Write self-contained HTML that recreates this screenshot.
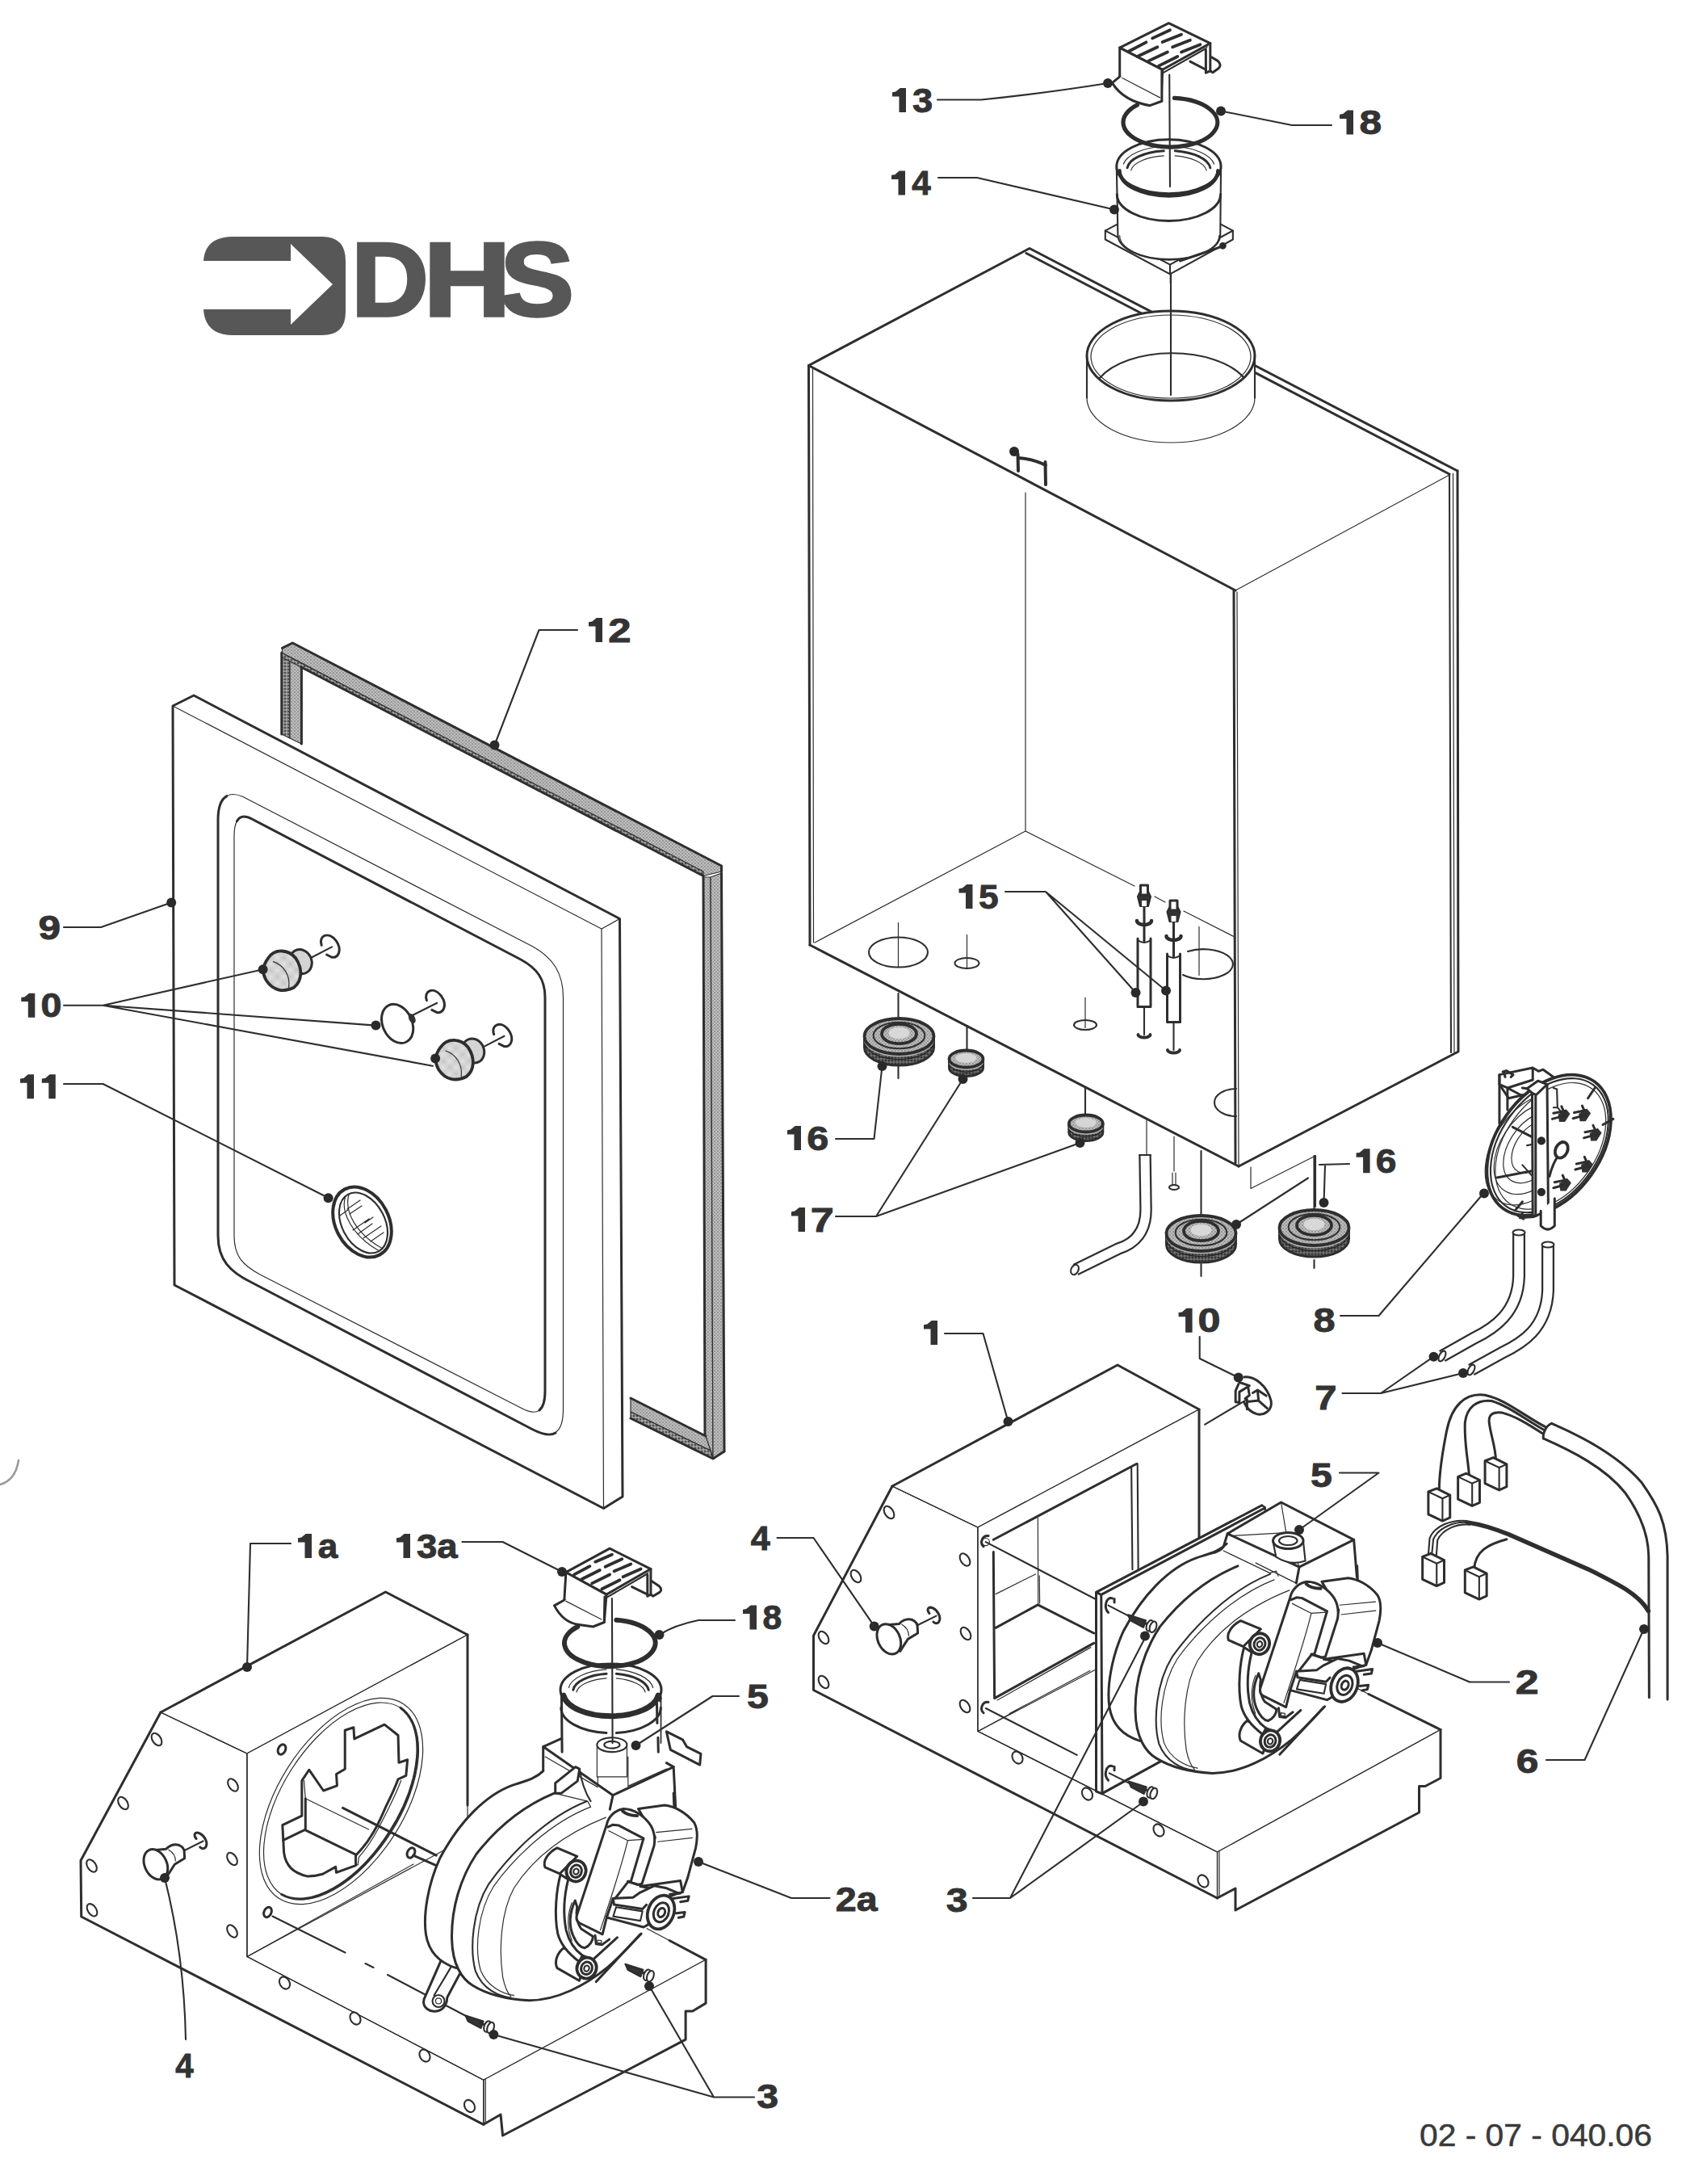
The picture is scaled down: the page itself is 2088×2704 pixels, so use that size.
<!DOCTYPE html>
<html><head><meta charset="utf-8"><title>02-07-040.06</title>
<style>
html,body{margin:0;padding:0;background:#fff;}
body{width:2088px;height:2704px;overflow:hidden;font-family:"Liberation Sans",sans-serif;}
svg{display:block;position:absolute;left:0;top:0;}
path,ellipse,circle,polygon,polyline,line,rect{fill:none;stroke:#2e2e2e;vector-effect:non-scaling-stroke;stroke-linecap:round;stroke-linejoin:round;stroke-width:2.2}
.k{stroke-width:3.0}
.kk{stroke-width:3.8}
.m{stroke-width:2.1}
.t{stroke-width:1.2}
.tt{stroke-width:1;stroke:#555}
.w{fill:#fff}
.n{stroke:none}
.d{fill:#2a2a2a;stroke:none}
.g1{fill:url(#st1)}
.g2{fill:url(#st2)}
.g3{fill:url(#st3)}
.g4{fill:url(#st4)}
.dk{fill:#333}
text{font-family:"Liberation Sans",sans-serif;}
.lb{font-weight:bold;font-size:42px;fill:#333;stroke:#333;stroke-width:0.9px}
.lg{font-weight:bold;fill:#575757;stroke:#575757;stroke-width:3.4px;stroke-linejoin:miter}
.dn{font-size:38px;fill:#3a3a3a;stroke:#3a3a3a;stroke-width:0.5px}
</style></head><body>
<svg width="2088" height="2704" viewBox="0 0 2088 2704">
<defs>
<pattern id="st1" width="5" height="5" patternUnits="userSpaceOnUse"><rect class="n" width="5" height="5" style="fill:#e4e4e4"/><circle class="n" cx="1.2" cy="1.2" r="0.8" style="fill:#555"/><circle class="n" cx="3.7" cy="3.7" r="0.8" style="fill:#555"/></pattern>
<pattern id="st2" width="4" height="4" patternUnits="userSpaceOnUse"><rect class="n" width="4" height="4" style="fill:#8a8a8a"/><circle class="n" cx="1" cy="1" r="0.9" style="fill:#333"/><circle class="n" cx="3" cy="3" r="0.8" style="fill:#ccc"/></pattern>
<pattern id="st3" width="4" height="4" patternUnits="userSpaceOnUse"><rect class="n" width="4" height="4" style="fill:#bdbdbd"/><circle class="n" cx="1" cy="1" r="0.8" style="fill:#666"/><circle class="n" cx="3" cy="3" r="0.7" style="fill:#777"/></pattern>
<pattern id="st4" width="4" height="4" patternUnits="userSpaceOnUse"><rect class="n" width="4" height="4" style="fill:#5a5a5a"/><circle class="n" cx="1" cy="1" r="0.9" style="fill:#222"/><circle class="n" cx="3" cy="3" r="0.7" style="fill:#999"/></pattern>
</defs>
<rect class="n" x="0" y="0" width="2088" height="2704" style="fill:#fff"/>
<path class="n w" d="M1001.5,452.5 L1275,307.5 L1805,583 L1795,588 L1530,731 Z"/><path class="k" d="M1530,731 L1001.5,452.5 L1275,307.5 L1805,583"/><path class="k" d="M1271,313.5 L1795,587"/><path class="t" d="M1530,731 L1795,588"/><path class="k" d="M1805,583 L1806,1302 L1534,1444"/><path class="m" d="M1795,588 L1797,1303"/><path class="t" d="M1799.5,586 L1801,1303"/><path class="k" d="M1001.5,452.5 L1003,1170"/><path class="t" d="M1006.5,456 L1007.5,1167"/><path class="k" d="M1528,731 L1530,1440"/><path class="t" d="M1532,733 L1534,1442"/><path class="k" d="M1003,1170 L1534,1444"/><path class="t" d="M1270,610 L1270,1029"/><path class="t" d="M1009,1167 L1270,1029 L1405,1097 M1430,1110 L1443,1117 M1466,1128 L1529,1160"/><circle class="d" cx="1256" cy="559" r="6"/><path class="" style="stroke-width:4" d="M1260.5,562 L1261,583 M1261,567 Q1280,568 1295,576 M1294.5,572 L1295,600"/><path class="t w" d="M1346,440.5 L1346,492.5 A104,55.5 0 0 0 1554,492.5 L1554,440.5 A104,55.5 0 0 0 1346,440.5 Z"/><ellipse class="k w" cx="1450" cy="440.5" rx="104" ry="55.5"/><ellipse class="t" cx="1450" cy="441.5" rx="99" ry="51.5"/><path class="m" d="M1362,468 A98,52 0 0 1 1540,467"/><path class="m" d="M1346,440.5 L1346,492.5 M1554,440.5 L1554,492.5"/><g transform="translate(1340,10) scale(0.1557)"><path class="m w" d="M185,1770 L690,1500 L1200,1770 L1200,1840 L700,2115 L185,1840 Z"/><path class="m" d="M185,1770 L700,2040 L1200,1770 M700,2040 L700,2115"/><path class="m w" d="M275,1260 L285,1800 A405,200 0 0 0 1100,1800 L1105,1260 Z"/><path class="t" d="M300,1810 A395,185 0 0 0 1090,1810"/><path class="k" d="M278,1480 A412,212 0 0 0 1102,1480"/><ellipse class="k w" cx="690" cy="1260" rx="415" ry="215"/><path class="kk" d="M300,1290 A385,190 0 0 0 1080,1290"/><path class="kk" d="M300,1300 A390,195 0 0 0 1080,1300"/><path class="t" d="M330,1240 A365,170 0 0 1 650,1100 M740,1100 A365,170 0 0 1 1050,1240"/><path class="k" d="M360,1270 A335,150 0 0 1 650,1135 M740,1135 A335,150 0 0 1 1020,1270"/><path class="t" d="M390,1290 A310,130 0 0 1 650,1175 M740,1175 A310,130 0 0 1 990,1290"/><circle class="d" cx="1120" cy="1890" r="28"/><path class="k" d="M780,2010 L1100,1900"/><path class="" style="stroke-width:5.2" d="M735,715 A375,195 0 1 1 440,770"/><path class="m" d="M695,530 L700,1420"/><path class="m" d="M705,2125 L705,2184"/><path class="k w" d="M300,315 L690,120 L1020,280 L640,490 Z"/><path class="k w" d="M300,315 L300,545 L630,720 L640,490 Z"/><path class="k w" d="M300,545 L240,595 Q330,740 540,775 L635,740 L635,500"/><path class="t" d="M320,555 L620,712"/><path class="m" d="M645,515 L1020,302"/><path class="k w" d="M1020,280 L1020,500 L985,515 L985,330"/><path class="k" d="M985,490 L860,425"/><path class="k" d="M1030,390 L1080,420 Q1115,455 1085,480 L1040,512 L1020,500"/><path class="kk" d="M370,345 L510,272"/><path class="kk" d="M560,240 L700,175"/><path class="kk" d="M440,385 L600,310"/><path class="kk" d="M640,270 L790,210"/><path class="kk" d="M530,420 L680,350"/><path class="kk" d="M720,310 L860,255"/><path class="kk" d="M610,460 L760,385"/><path class="kk" d="M790,350 L940,290"/></g><circle class="d" cx="1372" cy="103" r="6"/><circle class="d" cx="1512" cy="137.5" r="6"/><circle class="d" cx="1380" cy="259.5" r="6"/><path class="m" d="M1450,339 L1450,489"/><ellipse class="m" cx="1112.5" cy="1179" rx="36.5" ry="18.5"/><path class="t" d="M1112.5,1142.5 L1112.5,1197.5"/><ellipse class="m" cx="1197.5" cy="1192.5" rx="15" ry="6.5"/><path class="t" d="M1197.5,1157.5 L1197.5,1197.5"/><ellipse class="m" cx="1344" cy="1269" rx="14" ry="6"/><path class="t" d="M1344,1235 L1344,1272.5"/><path class="m" d="M1471,1178 A36.5,18.5 0 1 1 1465,1207"/><path class="t" d="M1485,1147.5 L1485,1207.5"/><path class="m" d="M1531,1348 A27,17 0 0 0 1531,1382"/><path class="m" d="M1417,1247 L1417,1281"/><path class="kk" d="M1409.5,1281 A7.5,3.5 0 0 0 1424.5,1281"/><rect class="n w" x="1409" y="1162.5" width="16" height="84"/><path class="k" d="M1409,1162 L1409,1246.5 L1425,1246.5 L1425,1162"/><path class="m" d="M1409,1164 Q1417,1170 1425,1164"/><path class="k" d="M1417,1122 L1417,1165"/><path class="" style="stroke-width:4.5" d="M1408,1140 A9,5 0 0 0 1426,1140"/><path class="m dk" d="M1409,1110 L1412,1104 L1422,1104 L1425,1110 L1422,1122 L1412,1122 Z"/><rect class="k w" x="1412.5" y="1096" width="9" height="12"/><rect class="n w" x="1414" y="1115" width="6" height="7"/><path class="m" d="M1453.5,1266 L1453.5,1300"/><path class="kk" d="M1446.0,1300 A7.5,3.5 0 0 0 1461.0,1300"/><rect class="n w" x="1445.5" y="1181.5" width="16" height="84"/><path class="k" d="M1445.5,1181 L1445.5,1265.5 L1461.5,1265.5 L1461.5,1181"/><path class="m" d="M1445.5,1183 Q1453.5,1189 1461.5,1183"/><path class="k" d="M1453.5,1141 L1453.5,1184"/><path class="" style="stroke-width:4.5" d="M1444.5,1159 A9,5 0 0 0 1462.5,1159"/><path class="m dk" d="M1445.5,1129 L1448.5,1123 L1458.5,1123 L1461.5,1129 L1458.5,1141 L1448.5,1141 Z"/><rect class="k w" x="1449.0" y="1115" width="9" height="12"/><rect class="n w" x="1450.5" y="1134" width="6" height="7"/><path class="m" d="M1112.5,1230 L1112.5,1262"/><path class="m" d="M1112.5,1300 L1112.5,1335"/><path class="m" d="M1197.5,1270 L1197.5,1302"/><path class="m" d="M1344,1347.5 L1344,1382"/><path class="t" d="M1420,1387 L1420,1430"/><path class="t" d="M1454,1407 L1454,1450"/><path class="m" d="M1487.5,1425 L1487.5,1505"/><path class="m" d="M1487.5,1565 L1487.5,1580"/><path class="m" d="M1627.5,1431 L1627.5,1497"/><path class="m" d="M1627.5,1560 L1627.5,1570"/><path class="t" d="M1452,1452 L1452,1468 M1456,1452 L1456,1468"/><ellipse class="m" cx="1454" cy="1470" rx="6" ry="3"/><path class="t" d="M1549,1445 L1549,1471.5 L1629,1431"/><path class="m" d="M1531,1516 L1620,1458.5"/><path class="k g4" d="M1070.5,1283 L1070.5,1297 A43,22 0 0 0 1156.5,1297 L1156.5,1283 Z"/><path class="m" style="stroke:#b0b0b0;stroke-width:2.5" d="M1071.5,1290.0 A43,22 0 0 0 1155.5,1290.0"/><path class="t" style="stroke:#222" d="M1071.5,1294.2 A43,22 0 0 0 1155.5,1294.2"/><ellipse class="kk g3" cx="1113.5" cy="1283" rx="43" ry="22"/><ellipse class="m" style="stroke:#333;fill:none" cx="1113.5" cy="1282" rx="31.82" ry="16.28"/><ellipse class="kk g3" cx="1113.5" cy="1280" rx="21.5" ry="12.100000000000001"/><ellipse class="n" style="fill:#d8d8d8" cx="1113.5" cy="1279" rx="12.9" ry="7.260000000000001"/><path class="k g4" d="M1175.5,1311 L1175.5,1322 A21,10.5 0 0 0 1217.5,1322 L1217.5,1311 Z"/><path class="m" style="stroke:#b0b0b0;stroke-width:2.5" d="M1176.5,1316.5 A21,10.5 0 0 0 1216.5,1316.5"/><path class="t" style="stroke:#222" d="M1176.5,1319.8 A21,10.5 0 0 0 1216.5,1319.8"/><ellipse class="kk g3" cx="1196.5" cy="1311" rx="21" ry="10.5"/><ellipse class="n" style="fill:#d5d5d5" cx="1196.5" cy="1310" rx="13.02" ry="6.09"/><path class="k g4" d="M1323.8,1391 L1323.8,1402 A21,10.5 0 0 0 1365.8,1402 L1365.8,1391 Z"/><path class="m" style="stroke:#b0b0b0;stroke-width:2.5" d="M1324.8,1396.5 A21,10.5 0 0 0 1364.8,1396.5"/><path class="t" style="stroke:#222" d="M1324.8,1399.8 A21,10.5 0 0 0 1364.8,1399.8"/><ellipse class="kk g3" cx="1344.8" cy="1391" rx="21" ry="10.5"/><ellipse class="n" style="fill:#d5d5d5" cx="1344.8" cy="1390" rx="13.02" ry="6.09"/><path class="k g4" d="M1444.5,1527 L1444.5,1541 A43,22 0 0 0 1530.5,1541 L1530.5,1527 Z"/><path class="m" style="stroke:#b0b0b0;stroke-width:2.5" d="M1445.5,1534.0 A43,22 0 0 0 1529.5,1534.0"/><path class="t" style="stroke:#222" d="M1445.5,1538.2 A43,22 0 0 0 1529.5,1538.2"/><ellipse class="kk g3" cx="1487.5" cy="1527" rx="43" ry="22"/><ellipse class="m" style="stroke:#333;fill:none" cx="1487.5" cy="1526" rx="31.82" ry="16.28"/><ellipse class="kk g3" cx="1487.5" cy="1524" rx="21.5" ry="12.100000000000001"/><ellipse class="n" style="fill:#d8d8d8" cx="1487.5" cy="1523" rx="12.9" ry="7.260000000000001"/><path class="k g4" d="M1584.5,1520 L1584.5,1534 A43,22 0 0 0 1670.5,1534 L1670.5,1520 Z"/><path class="m" style="stroke:#b0b0b0;stroke-width:2.5" d="M1585.5,1527.0 A43,22 0 0 0 1669.5,1527.0"/><path class="t" style="stroke:#222" d="M1585.5,1531.2 A43,22 0 0 0 1669.5,1531.2"/><ellipse class="kk g3" cx="1627.5" cy="1520" rx="43" ry="22"/><ellipse class="m" style="stroke:#333;fill:none" cx="1627.5" cy="1519" rx="31.82" ry="16.28"/><ellipse class="kk g3" cx="1627.5" cy="1517" rx="21.5" ry="12.100000000000001"/><ellipse class="n" style="fill:#d8d8d8" cx="1627.5" cy="1516" rx="12.9" ry="7.260000000000001"/><path class="" style="stroke-width:15.5;stroke-linecap:butt" d="M1418,1430 L1419,1495 C1420,1525 1405,1540 1385,1546 L1332,1572"/><path class="" style="stroke-width:11;stroke:#fff;stroke-linecap:butt" d="M1418,1429 L1419,1495 C1420,1525 1405,1540 1385,1546 L1331,1572.5"/><ellipse class="m w" cx="1331" cy="1572" rx="4.5" ry="6.5" transform="rotate(25 1331 1572)"/><path class="m" d="M1411,1430 L1425,1430"/><path class="" style="stroke-width:16;stroke-linecap:butt" d="M1881,1526 L1881,1580 C1880,1625 1850,1645 1825,1657 L1786,1679"/><path class="" style="stroke-width:11.5;stroke:#fff;stroke-linecap:butt" d="M1881,1526 L1881,1580 C1880,1625 1850,1645 1825,1657 L1786,1679"/><ellipse class="m w" cx="1881" cy="1526" rx="7.5" ry="3.5"/><ellipse class="m w" cx="1786" cy="1679" rx="3.5" ry="7" transform="rotate(28 1786 1679)"/><path class="" style="stroke-width:16;stroke-linecap:butt" d="M1917,1541 L1917,1598 C1915,1645 1885,1663 1860,1675 L1822,1696"/><path class="" style="stroke-width:11.5;stroke:#fff;stroke-linecap:butt" d="M1917,1541 L1917,1598 C1915,1645 1885,1663 1860,1675 L1822,1696"/><ellipse class="m w" cx="1917" cy="1541" rx="7.5" ry="3.5"/><ellipse class="m w" cx="1822" cy="1696" rx="3.5" ry="7" transform="rotate(28 1822 1696)"/><g transform="translate(1800,1300) scale(0.14235)"><path class="k w" d="M400,215 L690,155 L740,185 L780,170 L870,235 L870,330 L480,420 L400,300 Z"/><path class="k" d="M400,215 L400,640 M470,330 L470,520 M400,300 L470,330 L690,260 L690,160 M470,330 L640,420"/><path class="k" d="M430,190 L460,180 L520,215 L500,235 M450,235 L440,195"/><ellipse class="kk w" cx="830" cy="827" rx="680" ry="451" transform="rotate(-54.4 830 827)"/><ellipse class="m" cx="835" cy="830" rx="650" ry="425" transform="rotate(-54.4 835 830)"/><ellipse class="t" cx="845" cy="835" rx="615" ry="395" transform="rotate(-54.4 845 835)"/><path class="t" d="M700,414 A520,330 -54.4 0 0 700,1305"/><path class="t" d="M700,489 A430,270 -54.4 0 0 700,1218"/><path class="t" d="M700,570 A340,205 -54.4 0 0 700,1124"/><path class="t" d="M700,639 A250,150 -54.4 0 0 700,1044"/><path class="k" d="M515,670 L690,760 M380,1110 L690,1050 M1230,330 L1170,420 M1390,600 L1300,650 M540,1390 L600,1320"/><path class="m" d="M600,1000 L680,1090 M640,830 L690,820"/><path class="k w" d="M640,335 L735,268 L815,300 L825,1390 L715,1445 L690,1440 L685,375 Z"/><path class="k" d="M715,390 L715,1440 M685,375 L720,390 L815,300 M600,330 L640,335"/><circle class="d" cx="765" cy="790" r="36"/><circle class="d" cx="765" cy="1235" r="36"/><ellipse class="kk w" cx="940" cy="870" rx="52" ry="72" transform="rotate(25 940 870)"/><path class="k" d="M905,930 C870,980 850,1040 835,1100"/><path class="n dk" d="M910,560 l70,-45 l35,40 l-45,70 l-50,0 Z"/><path class="k" d="M860,600 l110,-30 M870,550 l100,-20 M980,580 l-40,-90"/><path class="n dk" d="M1090,555 l70,-45 l35,40 l-45,70 l-50,0 Z"/><path class="k" d="M1040,595 l110,-30 M1050,545 l100,-20 M1160,575 l-40,-90"/><path class="n dk" d="M1185,725 l70,-45 l35,40 l-45,70 l-50,0 Z"/><path class="k" d="M1135,765 l110,-30 M1145,715 l100,-20 M1255,745 l-40,-90"/><path class="n dk" d="M1110,1000 l70,-45 l35,40 l-45,70 l-50,0 Z"/><path class="k" d="M1060,1040 l110,-30 M1070,990 l100,-20 M1180,1020 l-40,-90"/><path class="n dk" d="M920,1160 l70,-45 l35,40 l-45,70 l-50,0 Z"/><path class="k" d="M870,1200 l110,-30 M880,1150 l100,-20 M990,1180 l-40,-90"/><path class="m" d="M870,330 L900,340 L905,500 L940,540 M870,500 L905,500"/><path class="k w" d="M760,1400 L760,1530 Q820,1590 880,1530 L880,1290"/><path class="k" d="M600,1420 L580,1460 L700,1450 M560,1440 L610,1470"/></g><circle class="d" cx="1838" cy="1477.5" r="6"/><path class="t g2" d="M348.8,808 L359,808 L359,914 L348.8,909 Z"/><path class="t g3" d="M359,808 L373.4,815 L373.4,921 L359,914 Z"/><path class="k" d="M348.8,808 L348.8,909 M373.4,826 L373.4,921"/><path class="t g3" d="M349.5,802.4 L362.3,796 L893.5,1072 L893.5,1079 L871,1084.5 L373,820.5 L349.5,808.5 Z"/><path class="t g2" d="M349.5,808.5 L373,821 L871,1079 L871,1084.5 L373,826 L349.5,814 Z"/><path class="k" d="M349.5,802.4 L362.3,796 L893.5,1072 L893.5,1079"/><path class="k" d="M373,826 L871,1084.5"/><path class="t g3" d="M871,1086 L880,1086 L883,1806 L880,1796 L873,1778 Z"/><path class="t g3" d="M880,1086 L893.5,1081 L897,1797 L883,1806 Z"/><path class="k" d="M871,1086 L873,1778 M893.5,1081 L897,1797"/><path class="t g3" d="M781,1731 L874,1778 L880,1796 L781,1748 Z"/><path class="t g2" d="M781,1748 L880,1796 L883,1806 L781,1756 Z"/><path class="k" d="M781,1731 L874,1778 M781,1756 L883,1806 L897,1797"/><path class="n w" d="M214,874 L240,861 L767.5,1137.5 L770,1854 L747.5,1867.5 L216,1591 Z"/><path class="k" d="M216,1591 L214,874 L240,861 L767.5,1137.5 L771,1853 L747.5,1867.5 Z"/><path class="t" d="M214,874 L745,1150 L747.5,1867.5"/><path class="t" d="M745,1150 L767.5,1137.5"/><path class="t" d="M270,1015 C270,990 280,978 300,986 L660,1172 C685,1186 697.5,1205 697.5,1235 L697.5,1745 C697.5,1775 685,1782 660,1770 L312,1588 C285,1575 270,1560 270,1530 Z"/><path class="t" d="M290,1035 C290,1015 297,1006 312,1014 L645,1188 C665,1199 675,1212 675,1235 L675,1722 C675,1748 665,1754 645,1743 L322,1578 C300,1566 290,1555 290,1530 Z"/><path class="k" d="M280.8,985.6 C273.6,989.7 270,1000 270,1015 L270,1530 C270,1560 285,1575 312,1588 L660,1770 C672,1776 682,1778 688,1774"/><path class="k" d="M293.4,1016.7 C296.9,1010.5 303,1009.2 312,1014 L645,1188 C665,1199 675,1212 675,1235 L675,1722 C675,1735 673,1742 668,1746"/><g transform="translate(300,1150) scale(0.2135)"><g transform="translate(0,0)"><path class="m" d="M395,170 L520,105"/><path class="k" d="M460,95 C440,40 500,10 545,70 C580,120 560,170 520,165 L490,150"/><ellipse class="k g1" cx="340" cy="190" rx="62" ry="72" transform="rotate(-25 340 190)"/><path class="kk g1" d="M150,170 C190,110 270,120 310,170 C350,230 350,300 300,340 C240,370 180,360 140,300 C110,250 120,210 150,170 Z"/><path class="t" d="M180,190 C240,210 280,270 270,340"/><circle class="d" cx="120" cy="235" r="28"/></g><g transform="translate(1000,517)"><path class="m" d="M395,170 L520,105"/><path class="k" d="M460,95 C440,40 500,10 545,70 C580,120 560,170 520,165 L490,150"/><ellipse class="k g1" cx="340" cy="190" rx="62" ry="72" transform="rotate(-25 340 190)"/><path class="kk g1" d="M150,170 C190,110 270,120 310,170 C350,230 350,300 300,340 C240,370 180,360 140,300 C110,250 120,210 150,170 Z"/><path class="t" d="M180,190 C240,210 280,270 270,340"/><circle class="d" cx="120" cy="235" r="28"/></g><path class="m" d="M990,500 L1130,430"/><path class="k" d="M1070,415 C1050,360 1110,330 1155,390 C1190,440 1170,490 1130,485 L1100,470"/><ellipse class="k w" cx="900" cy="550" rx="85" ry="118" transform="rotate(-25 900 550)"/><ellipse class="n dk" cx="985" cy="520" rx="18" ry="30" transform="rotate(-25 985 520)"/><circle class="d" cx="775" cy="560" r="28"/></g><ellipse class="" style="stroke-width:4;fill:#fff" cx="448.5" cy="1513" rx="33" ry="46" transform="rotate(-28 448.5 1513)"/><ellipse class="m" cx="450" cy="1514" rx="26.5" ry="40" transform="rotate(-28 450 1514)"/><path class="t" d="M428,1481 C421,1500 436,1530 470,1549 M432,1479 C426,1500 441,1528 474,1546"/><path class="t" d="M430,1497 l16,-11 M433,1503 l15,-10 M437,1523 l20,-14 M443,1528 l18,-13 M450,1533 l22,-15 M459,1537 l16,-11 M452,1514 l10,-7 M421,1505 l10,-7"/><circle class="d" cx="406.6" cy="1483.2" r="6"/><path class="t w" d="M1211,2143.5 L1507.5,2293 L1784,2141.5 L1690,2095 L1485,1990 Z"/><path class="t w" d="M1507.5,2293 L1784,2141.5 L1784,2201.5 L1765,2211.5 L1757.5,2211.5 L1757.5,2244 L1530,2365 L1530,2338 L1507.5,2350 Z"/><path class="k" d="M1784,2141.5 L1784,2201.5 L1765,2211.5 L1757.5,2211.5 L1757.5,2244 L1530,2365 L1530,2338 L1507.5,2350"/><path class="k" d="M1695,2097.5 L1784,2141.5"/><path class="t w" d="M1105,1840 L1007.5,2025 L1007.5,2092.5 L1507.5,2350 L1507.5,2293 L1211,2143.5 L1211,1891 Z"/><path class="k" d="M1105,1840 L1007.5,2025 L1007.5,2092.5 L1507.5,2350"/><path class="t" d="M1507.5,2293 L1507.5,2350 M1510,2292 L1510,2349"/><path class="t" d="M1211,2143.5 L1507.5,2293"/><path class="t w" d="M1105,1840 L1384,1690 L1485,1745 L1211,1891 Z"/><path class="k" d="M1105,1840 L1384,1690 L1485,1745"/><path class="t" d="M1105,1840 L1211,1891 L1485,1745"/><path class="t w" d="M1211,1891 L1485,1745 L1485,2000 L1211,2143.5 Z"/><path class="k" d="M1485,1745 L1485,1935"/><path class="t" d="M1211,1891 L1211,2143.5"/><path class="t" d="M1211.3,2143.5 L1260,2117"/><g transform="translate(1180,1780) scale(0.1898)"><path class="k" d="M265,665 L1200,170 M265,745 L272,1700 L920,1340"/><path class="m" d="M1165,190 L1172,860 M1205,170 L1210,860"/><path class="t" d="M290,1712 L900,1368"/><path class="t" d="M555,525 L557,1090"/><path class="k" d="M280,1240 L555,1090 L920,1275"/><path class="t" d="M280,1020 L540,890 M565,900 L567,1080"/><path class="t" d="M370,1800 L895,1520"/><path class="m" d="M215,680 L925,1050"/><path class="m" d="M215,1765 L810,2070"/><path class="k" d="M232,640 C190,635 175,690 200,710 M232,1725 C190,1720 175,1775 200,1795"/><circle class="t" cx="215" cy="680" r="24"/></g><ellipse class="m w" cx="1101" cy="1872.5" rx="5.2" ry="8.5" transform="rotate(-33 1101 1872.5)"/><ellipse class="m w" cx="1060" cy="1951.5" rx="5.2" ry="8.5" transform="rotate(-33 1060 1951.5)"/><ellipse class="m w" cx="1020" cy="2027.5" rx="5.2" ry="8.5" transform="rotate(-33 1020 2027.5)"/><ellipse class="m w" cx="1020" cy="2082.5" rx="5.2" ry="8.5" transform="rotate(-33 1020 2082.5)"/><ellipse class="m w" cx="1195" cy="1931" rx="5.2" ry="8.5" transform="rotate(-33 1195 1931)"/><ellipse class="m w" cx="1196" cy="2022.5" rx="5.2" ry="8.5" transform="rotate(-33 1196 2022.5)"/><ellipse class="m w" cx="1195" cy="2112.5" rx="5.2" ry="8.5" transform="rotate(-33 1195 2112.5)"/><ellipse class="m w" cx="1260" cy="2176" rx="6" ry="8" transform="rotate(-30 1260 2176)"/><ellipse class="m w" cx="1346.5" cy="2221" rx="6" ry="8" transform="rotate(-30 1346.5 2221)"/><ellipse class="m w" cx="1435" cy="2266" rx="6" ry="8" transform="rotate(-30 1435 2266)"/><ellipse class="m w" cx="1490" cy="2329" rx="6" ry="8" transform="rotate(-30 1490 2329)"/><g transform="translate(1040,1960) scale(0.10676)"><path class="m" d="M900,490 L1120,380"/><path class="k" d="M1040,352 C1000,300 1030,268 1080,290 C1140,320 1180,400 1150,450 C1130,478 1100,466 1085,450"/><path class="k w" d="M500,490 L690,472 C720,440 760,420 800,420 C850,420 890,450 900,490 L905,580 L790,650 L700,790 Z"/><path class="t" d="M720,480 C770,510 800,560 800,610"/><ellipse class="k w" cx="570" cy="650" rx="128" ry="183" transform="rotate(-25 570 650)"/></g><circle class="d" cx="1082.7" cy="2013.4" r="6"/><g transform="translate(1346.5,1818.7) scale(0.2503)"><path class="m w" d="M44,610 L864,180 L880,190 L880,1200 L384,1435 L74,1607 L44,1595 Z"/><path class="k" d="M44,610 L864,180 M69,622 L879,193 M44,610 L44,1595 L74,1607 L69,622 Z"/><path class="k" d="M74,1605 L384,1435"/><path class="k" d="M124,640 C94,630 79,685 104,710 M134,642 L134,660"/><path class="k" d="M124,1470 C94,1460 79,1515 104,1540 M134,1472 L134,1490"/><path class="m" d="M104,675 L229,740 M109,1505 L224,1563"/><path class="n w" d="M694,320 L959,165 L1319,350 L1334,535 L1049,570 L1034,565 L674,405 Z"/><path class="n w" d="M690,370 C650,410 600,420 540,440 C400,490 270,630 180,800 C120,930 95,1080 110,1180 C125,1270 180,1320 260,1345 C300,1420 420,1480 520,1500 C700,1530 900,1430 1010,1340 C1090,1270 1140,1210 1175,1175 L1400,950 L1455,700 L1400,560 L1040,480 Z"/><path class="k" d="M690,370 C650,410 600,420 540,440 C400,490 270,630 180,800 C120,930 95,1080 110,1180 C125,1270 180,1320 260,1345"/><path class="k" d="M745,480 C600,540 470,640 360,780 C280,900 235,1050 238,1200 C240,1330 290,1400 340,1430 C420,1480 520,1500 620,1505 C760,1505 900,1430 1010,1340 C1090,1270 1140,1210 1175,1175"/><path class="m" d="M905,520 C700,600 520,790 420,930 C340,1060 325,1250 355,1360 C390,1450 470,1485 530,1492"/><path class="t" d="M925,548 C725,625 545,800 445,940 C365,1070 350,1250 380,1355 C410,1430 480,1470 545,1480"/><path class="t" d="M1000,600 C800,680 640,800 545,950 C480,1070 470,1250 490,1390 C500,1440 515,1470 530,1485"/><path class="k w" d="M694,320 L959,165 L1319,350 L1049,485 Z"/><path class="t" d="M959,165 L984,315 M984,315 L1049,485 M984,315 L720,330"/><path class="k" d="M694,320 L674,385 C660,405 640,412 610,418"/><path class="k" d="M1049,485 L1034,565 M1319,350 L1334,535"/><path class="t" d="M674,405 L904,515 L935,505 L945,530 M834,465 L1034,565"/><path class="m w" d="M919,360 L934,435 Q1005,480 1079,455 L1069,360 Z"/><ellipse class="k w" cx="994" cy="355" rx="75" ry="40"/><ellipse class="m" cx="994" cy="355" rx="45" ry="22"/><g transform="translate(639.2,479.4) scale(0.5213)"><path class="k" d="M560,1590 L800,1370 M600,1790 L1020,1340"/><path class="k w" d="M290,1470 C230,1520 200,1600 230,1660 L440,1780 L520,1560 Z"/><path class="k w" d="M420,600 L230,520 C150,560 90,640 115,705 L255,765 Z"/><path class="k w" d="M262,772 C222,920 200,1150 235,1330 C265,1450 360,1540 440,1600 L470,1540 C400,1490 340,1400 315,1300 C285,1150 295,980 335,820 Z"/><path class="k" d="M400,1020 C350,1130 340,1250 380,1350 C410,1420 450,1465 490,1470 C540,1450 570,1400 570,1360 L460,1290 C420,1240 405,1150 420,1080 Z"/><path class="t" d="M370,1040 C320,1170 330,1300 370,1400"/><ellipse class="kk w" cx="410" cy="740" rx="92" ry="100" transform="rotate(20 410 740)"/><ellipse class="k" cx="410" cy="742" rx="52" ry="60" transform="rotate(20 410 742)"/><ellipse class="m" cx="410" cy="744" rx="24" ry="28" transform="rotate(20 410 744)"/><ellipse class="kk w" cx="510" cy="1660" rx="92" ry="100" transform="rotate(20 510 1660)"/><ellipse class="k" cx="510" cy="1662" rx="52" ry="60" transform="rotate(20 510 1662)"/><ellipse class="m" cx="510" cy="1664" rx="24" ry="28" transform="rotate(20 510 1664)"/><path class="k" d="M590,1350 L600,1432 L655,1440 L725,1388"/><path class="t" d="M612,1395 L650,1400 L650,1425 L615,1420 Z"/><path class="k w" d="M1000,150 L1250,115 C1340,125 1450,180 1530,280 C1565,340 1565,420 1545,520 L1470,800 L1420,940 L1380,950 L1020,885 L1160,420 Z"/><path class="k" d="M1340,128 L1335,0"/><path class="t" d="M1170,372 L1510,340 M1185,462 L1512,425"/><path class="k" d="M1020,885 L1400,832 L1420,940"/><path class="k w" d="M700,300 C715,225 780,160 860,150 C960,150 1060,220 1120,310 C1160,380 1160,440 1150,500 L1035,860 L1000,870 L905,840 L780,1000 L700,1180 L660,1340 L440,1232 C415,1215 408,1185 420,1150 Z"/><path class="k" d="M710,322 L760,300 L812,306 L1050,430 L930,838 L900,838 L1000,870"/><path class="t" d="M720,358 L900,450 L1045,440 M900,450 C840,700 740,1000 640,1300"/><path class="kk" d="M850,170 C880,200 940,215 990,215"/><path class="k w" d="M760,1000 L950,990 L1010,948 L1150,880 L1260,900 L1380,950 L1250,1000 L1090,1250 L1050,1272 L700,1180 Z"/><path class="k" d="M770,1058 L1040,1100 L1078,1060 M760,1000 L770,1058"/><path class="m" d="M790,1082 L1040,1122 L1020,1212 L762,1170 Z"/><path class="k" d="M1330,1000 L1480,980 L1470,1022 L1400,1032 M1360,1140 L1442,1130 L1432,1172 L1382,1182 M1300,960 L1400,950"/><ellipse class="kk w" cx="1215" cy="1130" rx="122" ry="165" transform="rotate(22 1215 1130)"/><ellipse class="k" cx="1218" cy="1132" rx="70" ry="95" transform="rotate(22 1218 1132)"/><ellipse class="k" cx="1220" cy="1134" rx="32" ry="44" transform="rotate(22 1220 1134)"/></g></g><path class="m dk" d="M1397,1999.3 L1419,2006.3 L1416,2014.8 L1400,2006.3 Z"/><path class="k" d="M1415,2008.3 L1424,2012.3"/><ellipse class="m w" cx="1424" cy="2012.8" rx="4" ry="7" transform="rotate(20 1424 2012.8)"/><ellipse class="m w" cx="1428" cy="2014.3" rx="4" ry="7" transform="rotate(20 1428 2014.3)"/><path class="m dk" d="M1397.8,2205.5 L1419.8,2212.5 L1416.8,2221.0 L1400.8,2212.5 Z"/><path class="k" d="M1415.8,2214.5 L1424.8,2218.5"/><ellipse class="m w" cx="1424.8" cy="2219.0" rx="4" ry="7" transform="rotate(20 1424.8 2219.0)"/><ellipse class="m w" cx="1428.8" cy="2220.5" rx="4" ry="7" transform="rotate(20 1428.8 2220.5)"/><circle class="d" cx="1418" cy="2025.5" r="6"/><circle class="d" cx="1416" cy="2230.5" r="6"/><circle class="d" cx="1706" cy="2034" r="6"/><circle class="d" cx="1609" cy="1894" r="6"/><path class="t w" d="M306,2422.5 L598.8,2575.2 L874.1,2426.3 L829,2402.5 L579,2270 Z"/><path class="t w" d="M598.8,2575.2 L874.1,2426.3 L874.1,2480.1 L857.8,2490 L849.1,2490 L849.1,2525.2 L622.6,2644 L620,2618 L598.8,2630.3 Z"/><path class="k" d="M874.1,2426.3 L874.1,2480.1 L857.8,2490 L849.1,2490 L849.1,2525.2 L622.6,2644 L620,2618 L598.8,2630.3"/><path class="k" d="M829,2402.5 L874.1,2426.3"/><path class="t w" d="M199,2120 L100,2303.5 L100.7,2373 L598.8,2630.3 L598.8,2575.2 L306,2422.5 L306,2171 Z"/><path class="k" d="M199,2120 L100,2303.5 L100.7,2373 L598.8,2630.3"/><path class="t" d="M598.8,2575.2 L598.8,2630.3 M601.3,2574 L601.3,2629"/><path class="t" d="M306,2422.5 L598.8,2575.2"/><path class="t w" d="M199,2120 L477.5,1971 L579,2024 L306,2171 Z"/><path class="k" d="M199,2120 L477.5,1971 L579,2024"/><path class="t" d="M199,2120 L306,2171 L579,2024"/><path class="t w" d="M306,2171 L579,2024 L579,2275 L306,2422.5 Z"/><path class="k" d="M579,2024 L579,2235"/><path class="t" d="M306,2171 L306,2422.5 L512,2308"/><ellipse class="t" cx="422.5" cy="2230" rx="143" ry="78" transform="rotate(-57.5 422.5 2230)"/><ellipse class="t" cx="422.5" cy="2230" rx="137" ry="73" transform="rotate(-57.5 422.5 2230)"/><path class="k" d="M496.1,2114.5 A137,73 -57.5 0 1 348.9,2345.5"/><path class="m" d="M337.5,2372.5 L427.5,2417.5 M452.5,2431 L462.5,2436 M480,2445 L580,2497.5"/><ellipse class="m w" cx="194" cy="2153.5" rx="5.2" ry="8.5" transform="rotate(-33 194 2153.5)"/><ellipse class="m w" cx="288.5" cy="2210" rx="5.2" ry="8.5" transform="rotate(-33 288.5 2210)"/><ellipse class="m w" cx="152.5" cy="2232.5" rx="5.2" ry="8.5" transform="rotate(-33 152.5 2232.5)"/><ellipse class="m w" cx="287.5" cy="2301.5" rx="5.2" ry="8.5" transform="rotate(-33 287.5 2301.5)"/><ellipse class="m w" cx="113.5" cy="2310" rx="5.2" ry="8.5" transform="rotate(-33 113.5 2310)"/><ellipse class="m w" cx="114" cy="2364.8" rx="5.2" ry="8.5" transform="rotate(-33 114 2364.8)"/><ellipse class="m w" cx="287.5" cy="2391" rx="5.2" ry="8.5" transform="rotate(-33 287.5 2391)"/><ellipse class="k w" cx="349" cy="2166" rx="4.5" ry="6.5" transform="rotate(25 349 2166)"/><ellipse class="k w" cx="509" cy="2294" rx="4.5" ry="6.5" transform="rotate(25 509 2294)"/><ellipse class="k w" cx="331.5" cy="2367.5" rx="4.5" ry="6.5" transform="rotate(25 331.5 2367.5)"/><ellipse class="m w" cx="352.5" cy="2455" rx="6" ry="8" transform="rotate(-30 352.5 2455)"/><ellipse class="m w" cx="440" cy="2499" rx="6" ry="8" transform="rotate(-30 440 2499)"/><ellipse class="m w" cx="526" cy="2545" rx="6" ry="8" transform="rotate(-30 526 2545)"/><ellipse class="m w" cx="581.5" cy="2607.5" rx="6" ry="8" transform="rotate(-30 581.5 2607.5)"/><g transform="translate(300,2080) scale(0.17794)"><path class="k" d="M715,350 L775,330 L780,410 L990,310 L1085,385 L1090,575 L1150,555 L1140,665 L1085,690 C1060,760 1030,820 1000,880 C970,950 940,1020 900,1080 C870,1130 830,1180 790,1220 L790,1290 L655,1340 L650,1300 L560,1350 C520,1362 490,1366 450,1365 C410,1355 370,1340 340,1310 C310,1280 295,1240 290,1200 L280,1010 L415,945 L415,700 L465,625 L565,770 L660,735 L655,655 L715,620 Z"/><path class="k" d="M440,825 L440,1040 L285,1115 M440,1045 L790,1215"/><path class="t" d="M440,825 L880,1040 M430,700 L440,830"/><path class="t" d="M1105,700 C1080,770 1050,830 1015,900 C985,960 950,1030 915,1090 C885,1140 850,1190 812,1232 L805,1285 L668,1335"/><path class="k" d="M700,890 L1350,1220"/><path class="k" d="M1190,1220 L1350,1290"/></g><g transform="translate(132,2238.9) scale(0.10676)"><path class="m" d="M900,490 L1120,380"/><path class="k" d="M1040,352 C1000,300 1030,268 1080,290 C1140,320 1180,400 1150,450 C1130,478 1100,466 1085,450"/><path class="k w" d="M500,490 L690,472 C720,440 760,420 800,420 C850,420 890,450 900,490 L905,580 L790,650 L700,790 Z"/><path class="t" d="M720,480 C770,510 800,560 800,610"/><ellipse class="k w" cx="570" cy="650" rx="128" ry="183" transform="rotate(-25 570 650)"/></g><circle class="d" cx="204" cy="2325" r="6"/><circle class="d" cx="306" cy="2064" r="6"/><g transform="translate(500,2100) scale(0.2503)"><path class="k w" d="M190,1295 L100,1500 C90,1540 130,1570 175,1555 C200,1545 215,1520 215,1490 L290,1350 Z"/><path class="m" d="M240,1330 L150,1480"/><circle class="m" cx="172" cy="1508" r="30"/><circle class="t" cx="172" cy="1508" r="14"/><path class="n w" d="M690,250 L790,200 L1270,200 L1335,350 L1345,550 L1020,560 L690,370 Z"/><path class="n w" d="M690,370 C650,410 600,420 540,440 C400,490 270,630 180,800 C120,930 95,1080 110,1180 C125,1270 180,1320 260,1345 C300,1420 420,1480 520,1500 C700,1530 900,1430 1010,1340 C1090,1270 1140,1210 1175,1175 L1400,950 L1455,700 L1400,560 L1040,480 Z"/><path class="k" d="M690,370 C650,410 600,420 540,440 C400,490 270,630 180,800 C120,930 95,1080 110,1180 C125,1270 180,1320 260,1345"/><path class="k" d="M745,480 C600,540 470,640 360,780 C280,900 235,1050 238,1200 C240,1330 290,1400 340,1430 C420,1480 520,1500 620,1505 C760,1505 900,1430 1010,1340 C1090,1270 1140,1210 1175,1175"/><path class="m" d="M905,520 C700,600 520,790 420,930 C340,1060 325,1250 355,1360 C390,1450 470,1485 530,1492"/><path class="t" d="M925,548 C725,625 545,800 445,940 C365,1070 350,1250 380,1355 C410,1430 480,1470 545,1480"/><path class="t" d="M1000,600 C800,680 640,800 545,950 C480,1070 470,1250 490,1390 C500,1440 515,1470 530,1485"/><path class="k" d="M690,370 L690,250 L790,205"/><path class="k" d="M690,250 L1035,490 L1335,350 M1035,490 L1020,560 M1335,350 L1345,550"/><path class="k" d="M1335,350 L1300,330"/><path class="t" d="M700,300 L960,450 M960,300 L960,440 L1035,490 M1110,300 L1110,445 M1110,445 L1300,360"/><path class="k w" d="M750,430 L850,350 L870,360 L860,420 L780,480 L750,480 Z"/><path class="m" d="M870,360 C880,430 900,480 925,520"/><path class="t" d="M745,480 L910,520 L925,548"/><path class="k w" d="M1300,175 L1380,215 L1400,250 L1470,285 L1465,340 L1320,265 Z"/><path class="m w" d="M785,0 L785,200 Q1030,330 1270,200 L1270,0 Z"/><path class="kk" d="M790,10 Q1030,180 1270,10"/><path class="k" d="M790,100 Q1030,280 1270,100"/><path class="k" d="M785,0 L785,200 M1270,0 L1270,230"/><ellipse class="m w" cx="1030" cy="245" rx="70" ry="35"/><ellipse class="t" cx="1030" cy="245" rx="40" ry="18"/><path class="t" d="M960,250 L960,300 M1100,250 L1100,300"/><path class="t" d="M1035,0 L1035,240"/><g transform="translate(639.2,479.4) scale(0.5213)"><path class="k" d="M560,1590 L800,1370 M600,1790 L1020,1340"/><path class="k w" d="M290,1470 C230,1520 200,1600 230,1660 L440,1780 L520,1560 Z"/><path class="k w" d="M420,600 L230,520 C150,560 90,640 115,705 L255,765 Z"/><path class="k w" d="M262,772 C222,920 200,1150 235,1330 C265,1450 360,1540 440,1600 L470,1540 C400,1490 340,1400 315,1300 C285,1150 295,980 335,820 Z"/><path class="k" d="M400,1020 C350,1130 340,1250 380,1350 C410,1420 450,1465 490,1470 C540,1450 570,1400 570,1360 L460,1290 C420,1240 405,1150 420,1080 Z"/><path class="t" d="M370,1040 C320,1170 330,1300 370,1400"/><ellipse class="kk w" cx="410" cy="740" rx="92" ry="100" transform="rotate(20 410 740)"/><ellipse class="k" cx="410" cy="742" rx="52" ry="60" transform="rotate(20 410 742)"/><ellipse class="m" cx="410" cy="744" rx="24" ry="28" transform="rotate(20 410 744)"/><ellipse class="kk w" cx="510" cy="1660" rx="92" ry="100" transform="rotate(20 510 1660)"/><ellipse class="k" cx="510" cy="1662" rx="52" ry="60" transform="rotate(20 510 1662)"/><ellipse class="m" cx="510" cy="1664" rx="24" ry="28" transform="rotate(20 510 1664)"/><path class="k" d="M590,1350 L600,1432 L655,1440 L725,1388"/><path class="t" d="M612,1395 L650,1400 L650,1425 L615,1420 Z"/><path class="k w" d="M1000,150 L1250,115 C1340,125 1450,180 1530,280 C1565,340 1565,420 1545,520 L1470,800 L1420,940 L1380,950 L1020,885 L1160,420 Z"/><path class="k" d="M1340,128 L1335,0"/><path class="t" d="M1170,372 L1510,340 M1185,462 L1512,425"/><path class="k" d="M1020,885 L1400,832 L1420,940"/><path class="k w" d="M700,300 C715,225 780,160 860,150 C960,150 1060,220 1120,310 C1160,380 1160,440 1150,500 L1035,860 L1000,870 L905,840 L780,1000 L700,1180 L660,1340 L440,1232 C415,1215 408,1185 420,1150 Z"/><path class="k" d="M710,322 L760,300 L812,306 L1050,430 L930,838 L900,838 L1000,870"/><path class="t" d="M720,358 L900,450 L1045,440 M900,450 C840,700 740,1000 640,1300"/><path class="kk" d="M850,170 C880,200 940,215 990,215"/><path class="k w" d="M760,1000 L950,990 L1010,948 L1150,880 L1260,900 L1380,950 L1250,1000 L1090,1250 L1050,1272 L700,1180 Z"/><path class="k" d="M770,1058 L1040,1100 L1078,1060 M760,1000 L770,1058"/><path class="m" d="M790,1082 L1040,1122 L1020,1212 L762,1170 Z"/><path class="k" d="M1330,1000 L1480,980 L1470,1022 L1400,1032 M1360,1140 L1442,1130 L1432,1172 L1382,1182 M1300,960 L1400,950"/><ellipse class="kk w" cx="1215" cy="1130" rx="122" ry="165" transform="rotate(22 1215 1130)"/><ellipse class="k" cx="1218" cy="1132" rx="70" ry="95" transform="rotate(22 1218 1132)"/><ellipse class="k" cx="1220" cy="1134" rx="32" ry="44" transform="rotate(22 1220 1134)"/></g></g><path class="m dk" d="M576.6,2495.5 L598.6,2502.5 L595.6,2511.0 L579.6,2502.5 Z"/><path class="k" d="M594.6,2504.5 L603.6,2508.5"/><ellipse class="m w" cx="603.6" cy="2509.0" rx="4" ry="7" transform="rotate(20 603.6 2509.0)"/><ellipse class="m w" cx="607.6" cy="2510.5" rx="4" ry="7" transform="rotate(20 607.6 2510.5)"/><path class="m dk" d="M774.4,2431.7 L796.4,2438.7 L793.4,2447.2 L777.4,2438.7 Z"/><path class="k" d="M792.4,2440.7 L801.4,2444.7"/><ellipse class="m w" cx="801.4" cy="2445.2" rx="4" ry="7" transform="rotate(20 801.4 2445.2)"/><ellipse class="m w" cx="805.4" cy="2446.7" rx="4" ry="7" transform="rotate(20 805.4 2446.7)"/><circle class="d" cx="611.4" cy="2519" r="6"/><circle class="d" cx="804" cy="2459" r="6"/><circle class="d" cx="865" cy="2305" r="6"/><g transform="translate(670,1900) scale(0.13733)"><path class="n w" d="M185,1400 L185,1960 L1075,1960 L1075,1400 Z"/><path class="k" d="M185,1400 L190,1960 M1075,1400 L1075,1500 M1045,1520 L1048,1700 M1055,1830 L1058,1960"/><path class="k" d="M180,1560 A452,230 0 0 0 590,1788 M680,1788 A452,230 0 0 0 1080,1560"/><ellipse class="k w" cx="630" cy="1400" rx="455" ry="235"/><path class="" style="stroke-width:7" d="M203,1450 A430,211 0 0 0 1057,1450"/><path class="t" d="M250,1380 A400,190 0 0 1 590,1215 M680,1215 A400,190 0 0 1 1010,1380"/><path class="k" d="M290,1400 A360,160 0 0 1 590,1255 M680,1255 A360,160 0 0 1 970,1400"/><path class="t" d="M320,1420 A330,140 0 0 1 590,1295 M680,1295 A330,140 0 0 1 940,1420"/><path class="t w" d="M505,1895 L505,2184 L775,2184 L775,1895 Z"/><ellipse class="m w" cx="640" cy="1895" rx="135" ry="65"/><ellipse class="m" cx="640" cy="1895" rx="70" ry="32"/><path class="" style="stroke-width:6" d="M680,770 A410,210 0 1 1 330,830"/><path class="m" d="M640,575 L645,1880"/><path class="k w" d="M225,340 L620,125 L990,310 L590,540 Z"/><path class="k w" d="M225,340 L210,590 L540,760 L570,790 L590,540 Z"/><path class="k w" d="M210,590 L120,640 Q200,790 330,810 L470,830 L570,790 L575,560"/><path class="t" d="M225,600 L545,765"/><path class="m" d="M595,565 L990,335"/><path class="k w" d="M990,310 L990,540 L960,555 L960,360"/><path class="k" d="M960,540 L820,470"/><path class="k" d="M1000,420 L1060,460 Q1100,495 1070,520 L1010,555 L990,540"/><path class="kk" d="M300,360 L440,285"/><path class="kk" d="M490,245 L640,180"/><path class="kk" d="M370,400 L530,320"/><path class="kk" d="M580,290 L730,220"/><path class="kk" d="M460,440 L620,360"/><path class="kk" d="M660,330 L810,265"/><path class="kk" d="M550,490 L710,410"/><path class="kk" d="M740,380 L900,310"/></g><circle class="d" cx="696" cy="1946" r="6"/><circle class="d" cx="816.5" cy="2024" r="6"/><circle class="d" cx="787.5" cy="2161" r="6"/><g transform="translate(1740,1720) scale(0.2064)"><path class="k" d="M880,205 C1100,300 1300,420 1420,560 C1520,700 1570,800 1575,1000 L1575,1860"/><path class="k" d="M830,295 C1000,370 1200,470 1320,620 C1420,760 1460,880 1462,1000 L1465,1850"/><path class="k" d="M880,205 C850,215 825,260 830,295"/><path class="k" d="M840,225 C700,150 600,60 480,35 C360,20 280,100 250,250 C220,400 205,500 205,610"/><path class="k" d="M835,245 C720,180 620,100 520,70 C430,60 370,110 360,200 C355,330 380,430 385,520"/><path class="k" d="M825,265 C740,210 660,160 580,140 C530,135 500,150 505,200 C515,280 545,350 545,430"/><path class="k w" d="M140,615 L190,595 L270,635 L270,770 L225,790 L140,750 Z"/><path class="m" d="M140,615 L225,655 L270,635 M225,655 L225,790"/><path class="k w" d="M318,525 L368,505 L448,545 L448,680 L403,700 L318,660 Z"/><path class="m" d="M318,525 L403,565 L448,545 M403,565 L403,700"/><path class="k w" d="M480,430 L530,410 L610,450 L610,585 L565,605 L480,565 Z"/><path class="m" d="M480,430 L565,470 L610,450 M565,470 L565,605"/><path class="" style="stroke-width:5.5" d="M1460,1330 C1400,1230 1300,1180 1100,1080 L620,870 C520,830 450,810 380,800"/><path class="m" d="M380,800 C300,790 200,830 170,900 L160,1000 M390,812 C310,805 225,840 195,905 L188,1000 M370,790 C280,780 175,820 148,895 L140,995"/><path class="k" d="M610,900 C500,930 420,970 415,1080"/><path class="k w" d="M105,1005 L155,985 L235,1025 L235,1160 L190,1180 L105,1140 Z"/><path class="m" d="M105,1005 L190,1045 L235,1025 M190,1045 L190,1180"/><path class="k w" d="M360,1085 L410,1065 L490,1105 L490,1240 L445,1260 L360,1220 Z"/><path class="m" d="M360,1085 L445,1125 L490,1105 M445,1125 L445,1260"/></g><circle class="d" cx="2036" cy="2017" r="6"/><g transform="translate(1440,1600) scale(0.11862)"><path class="k w" d="M850,885 C960,870 1090,980 1130,1130 C1150,1230 1060,1290 980,1270 C930,1255 880,1220 850,1150"/><path class="k" d="M790,960 L760,1030 L760,1145 L800,1150 L800,1040 L890,985 L905,1075 L860,1110 M905,975 L800,940 M990,1020 L1000,1130 L1090,1210 M1000,1130 L900,1140 M940,1050 L990,1020 L1080,1080 M880,1120 L880,1220"/><path class="m" d="M440,1380 L860,1130"/></g><circle class="d" cx="1533.7" cy="1705.6" r="6"/><path class="m" d="M1161,123.5 L1215,123.5 Q1290,116 1372,103"/><path class="m" d="M1162,220 L1210,220 L1380,259.5"/><path class="m" d="M1649,155 L1600,155 L1512.5,137.5"/><path class="m" d="M715,780 L667.5,780 L612.5,922.5"/><path class="m" d="M79,1148 L125,1148 L212,1117.5"/><path class="m" d="M79,1244.7 L127.6,1244.7 L325.6,1200.2 M127.6,1244.7 L465.5,1269.6 M127.6,1244.7 L535.9,1319.7"/><path class="m" d="M79,1342 L127.6,1342 L407.5,1483.5"/><path class="m" d="M1245,1104 L1295,1104 L1406.5,1229 M1295,1104 L1444,1226.5"/><path class="m" d="M1035,1410 L1082.5,1410 L1092.5,1320"/><path class="m" d="M1035,1506 L1085,1506 L1192.5,1336 M1085,1506 L1337.5,1415"/><path class="m" d="M1671,1441 L1634,1442 M1641,1443 L1639.5,1489 M1629,1431 L1629,1494"/><path class="m" d="M1485.7,1655 L1485.7,1682 L1533.7,1705.5"/><path class="m" d="M1660,1629 L1707.5,1629 L1837.6,1477"/><path class="m" d="M1662.5,1725 L1710,1725 L1775.5,1679.7 M1710,1725 L1812,1700"/><path class="m" d="M1170,1651 L1217.5,1651 L1248.5,1760"/><path class="m" d="M1659,1823.5 L1707.5,1823.5 L1609,1894"/><path class="m" d="M1869,2082.5 L1820,2082.5 L1706,2034"/><path class="m" d="M1915,2179 L1962.5,2179 L2036,2016.5"/><path class="m" d="M962.5,1904 L1007.5,1904 L1082.7,2013.4"/><path class="m" d="M910,2006 L865,2006 Q835,2012 816.5,2024"/><path class="m" d="M915,2100 L882.5,2100 L787.5,2161"/><path class="m" d="M1027.5,2350 L980,2350 L865,2305"/><path class="m" d="M1205,2350 L1251,2350 L1419,2026 M1251,2350 L1416,2231"/><path class="m" d="M360,1911 L310,1911 L306,2064"/><path class="m" d="M572.5,1909 L622.5,1909 L696,1946"/><path class="m" d="M204,2325 Q228,2420 230,2525"/><path class="m" d="M934,2596.5 L884,2596.5 L611.3,2519 M884,2596.5 L804,2458.8"/><circle class="d" cx="212.2" cy="1117.5" r="6"/><circle class="d" cx="612.5" cy="922.5" r="6"/><circle class="d" cx="1092.5" cy="1320" r="6"/><circle class="d" cx="1192.5" cy="1336" r="6"/><circle class="d" cx="1337.5" cy="1415" r="6"/><circle class="d" cx="1406.5" cy="1229" r="6"/><circle class="d" cx="1444" cy="1226.5" r="6"/><circle class="d" cx="1639.5" cy="1489" r="6"/><circle class="d" cx="1531" cy="1516" r="6"/><circle class="d" cx="1248.5" cy="1760" r="6"/><circle class="d" cx="1775.5" cy="1679.7" r="6"/><circle class="d" cx="1812" cy="1700" r="6"/><path class="n" style="fill:#333" d="M1122.0,109.0 L1122.0,139.0 L1113.5,139.0 L1113.5,119.4 L1105.0,119.4 L1105.0,114.2 L1109.2,113.6 L1114.7,109.0 Z"/><text class="lb" x="1129.95" y="138.6" textLength="25.18" lengthAdjust="spacingAndGlyphs">3</text><path class="n" style="fill:#333" d="M1121.0,211.6 L1121.0,241.6 L1112.5,241.6 L1112.5,222.0 L1104.0,222.0 L1104.0,216.8 L1108.2,216.2 L1113.7,211.6 Z"/><text class="lb" x="1129.32" y="241.2" textLength="23.44" lengthAdjust="spacingAndGlyphs">4</text><path class="n" style="fill:#333" d="M1676.0,136.5 L1676.0,166.5 L1667.5,166.5 L1667.5,146.9 L1659.0,146.9 L1659.0,141.7 L1663.2,141.1 L1668.7,136.5 Z"/><text class="lb" x="1683.41" y="166.1" textLength="27.63" lengthAdjust="spacingAndGlyphs">8</text><path class="n" style="fill:#333" d="M746.0,765.0 L746.0,795.0 L737.5,795.0 L737.5,775.4 L729.0,775.4 L729.0,770.2 L733.2,769.6 L738.7,765.0 Z"/><text class="lb" x="753.22" y="794.6" textLength="28.32" lengthAdjust="spacingAndGlyphs">2</text><text class="lb" x="47.56" y="1163.3999999999999" textLength="27.57" lengthAdjust="spacingAndGlyphs">9</text><path class="n" style="fill:#333" d="M43.3,1229.7 L43.3,1259.7 L34.8,1259.7 L34.8,1240.1 L26.3,1240.1 L26.3,1234.9 L30.6,1234.3 L36.0,1229.7 Z"/><text class="lb" x="50.43" y="1259.3" textLength="25.99" lengthAdjust="spacingAndGlyphs">0</text><path class="n" style="fill:#333" d="M42.0,1330.3 L42.0,1360.3 L33.5,1360.3 L33.5,1340.7 L25.0,1340.7 L25.0,1335.5 L29.2,1334.9 L34.7,1330.3 Z"/><path class="n" style="fill:#333" d="M68.8,1330.3 L68.8,1360.3 L60.3,1360.3 L60.3,1340.7 L51.8,1340.7 L51.8,1335.5 L56.0,1334.9 L61.5,1330.3 Z"/><path class="n" style="fill:#333" d="M1204.5,1095.0 L1204.5,1125.0 L1196.0,1125.0 L1196.0,1105.4 L1187.5,1105.4 L1187.5,1100.2 L1191.8,1099.6 L1197.2,1095.0 Z"/><text class="lb" x="1212.12" y="1124.6" textLength="24.62" lengthAdjust="spacingAndGlyphs">5</text><path class="n" style="fill:#333" d="M992.0,1394.0 L992.0,1424.0 L983.5,1424.0 L983.5,1404.4 L975.0,1404.4 L975.0,1399.2 L979.2,1398.6 L984.7,1394.0 Z"/><text class="lb" x="999.2" y="1423.6" textLength="27.05" lengthAdjust="spacingAndGlyphs">6</text><path class="n" style="fill:#333" d="M997.0,1495.0 L997.0,1525.0 L988.5,1525.0 L988.5,1505.4 L980.0,1505.4 L980.0,1500.2 L984.2,1499.6 L989.7,1495.0 Z"/><text class="lb" x="1003.76" y="1524.6" textLength="29.04" lengthAdjust="spacingAndGlyphs">7</text><path class="n" style="fill:#333" d="M1696.6,1422.3 L1696.6,1452.3 L1688.1,1452.3 L1688.1,1432.7 L1679.6,1432.7 L1679.6,1427.5 L1683.8,1426.9 L1689.3,1422.3 Z"/><text class="lb" x="1703.89" y="1451.8999999999999" textLength="25.68" lengthAdjust="spacingAndGlyphs">6</text><path class="n" style="fill:#333" d="M1476.6,1619.8 L1476.6,1649.8 L1468.1,1649.8 L1468.1,1630.2 L1459.6,1630.2 L1459.6,1625.0 L1463.8,1624.4 L1469.3,1619.8 Z"/><text class="lb" x="1483.59" y="1649.3999999999999" textLength="27.97" lengthAdjust="spacingAndGlyphs">0</text><text class="lb" x="1626.44" y="1648.6" textLength="27.07" lengthAdjust="spacingAndGlyphs">8</text><path class="n" style="fill:#333" d="M1161.0,1635.0 L1161.0,1665.0 L1152.5,1665.0 L1152.5,1645.4 L1144.0,1645.4 L1144.0,1640.2 L1148.2,1639.6 L1153.7,1635.0 Z"/><text class="lb" x="1628.39" y="1744.6" textLength="27.27" lengthAdjust="spacingAndGlyphs">7</text><text class="lb" x="1623.0" y="1840.6" textLength="26.85" lengthAdjust="spacingAndGlyphs">5</text><text class="lb" x="1876.68" y="2097.1" textLength="28.89" lengthAdjust="spacingAndGlyphs">2</text><text class="lb" x="1877.66" y="2194.6" textLength="27.63" lengthAdjust="spacingAndGlyphs">6</text><text class="lb" x="929.8" y="1918.6" textLength="23.96" lengthAdjust="spacingAndGlyphs">4</text><path class="n" style="fill:#333" d="M937.0,1987.5 L937.0,2017.5 L928.5,2017.5 L928.5,1997.9 L920.0,1997.9 L920.0,1992.7 L924.2,1992.1 L929.7,1987.5 Z"/><text class="lb" x="944.63" y="2017.1" textLength="23.7" lengthAdjust="spacingAndGlyphs">8</text><text class="lb" x="925.0" y="2114.6" textLength="26.85" lengthAdjust="spacingAndGlyphs">5</text><text class="lb" x="1034.86" y="2365.6" textLength="51.86" lengthAdjust="spacingAndGlyphs">2a</text><text class="lb" x="1171.89" y="2366.6" textLength="26.85" lengthAdjust="spacingAndGlyphs">3</text><path class="n" style="fill:#333" d="M386.0,1899.0 L386.0,1929.0 L377.5,1929.0 L377.5,1909.4 L369.0,1909.4 L369.0,1904.2 L373.2,1903.6 L378.7,1899.0 Z"/><text class="lb" x="393.67" y="1928.6" textLength="24.57" lengthAdjust="spacingAndGlyphs">a</text><path class="n" style="fill:#333" d="M508.0,1899.0 L508.0,1929.0 L499.5,1929.0 L499.5,1909.4 L491.0,1909.4 L491.0,1904.2 L495.2,1903.6 L500.7,1899.0 Z"/><text class="lb" x="515.95" y="1928.6" textLength="50.79" lengthAdjust="spacingAndGlyphs">3a</text><text class="lb" x="217.35" y="2572.1" textLength="22.41" lengthAdjust="spacingAndGlyphs">4</text><text class="lb" x="937.39" y="2609.6" textLength="26.85" lengthAdjust="spacingAndGlyphs">3</text><path class="n" style="fill:#575757" d="M252,323 Q254,293 289,293 L399,293 Q428,293 428,323 L428,386 Q428,415 399,415 L289,415 Q254,415 252,383 L360,383 L360,402 L412,352 L360,302 L360,323 Z"/><text class="lg" x="434.94" y="391" font-size="130" textLength="95.8" lengthAdjust="spacingAndGlyphs">D</text><text class="lg" x="524.27" y="391" font-size="130" textLength="108.61" lengthAdjust="spacingAndGlyphs">H</text><text class="lg" x="619.35" y="391" font-size="130" textLength="91.82" lengthAdjust="spacingAndGlyphs">S</text><text class="dn" x="1758" y="2656.5" textLength="288" lengthAdjust="spacingAndGlyphs">02 - 07 - 040.06</text><path d="M0,1838 Q19,1833 23,1808" style="stroke:#999;stroke-width:2.5"/></svg></body></html>
